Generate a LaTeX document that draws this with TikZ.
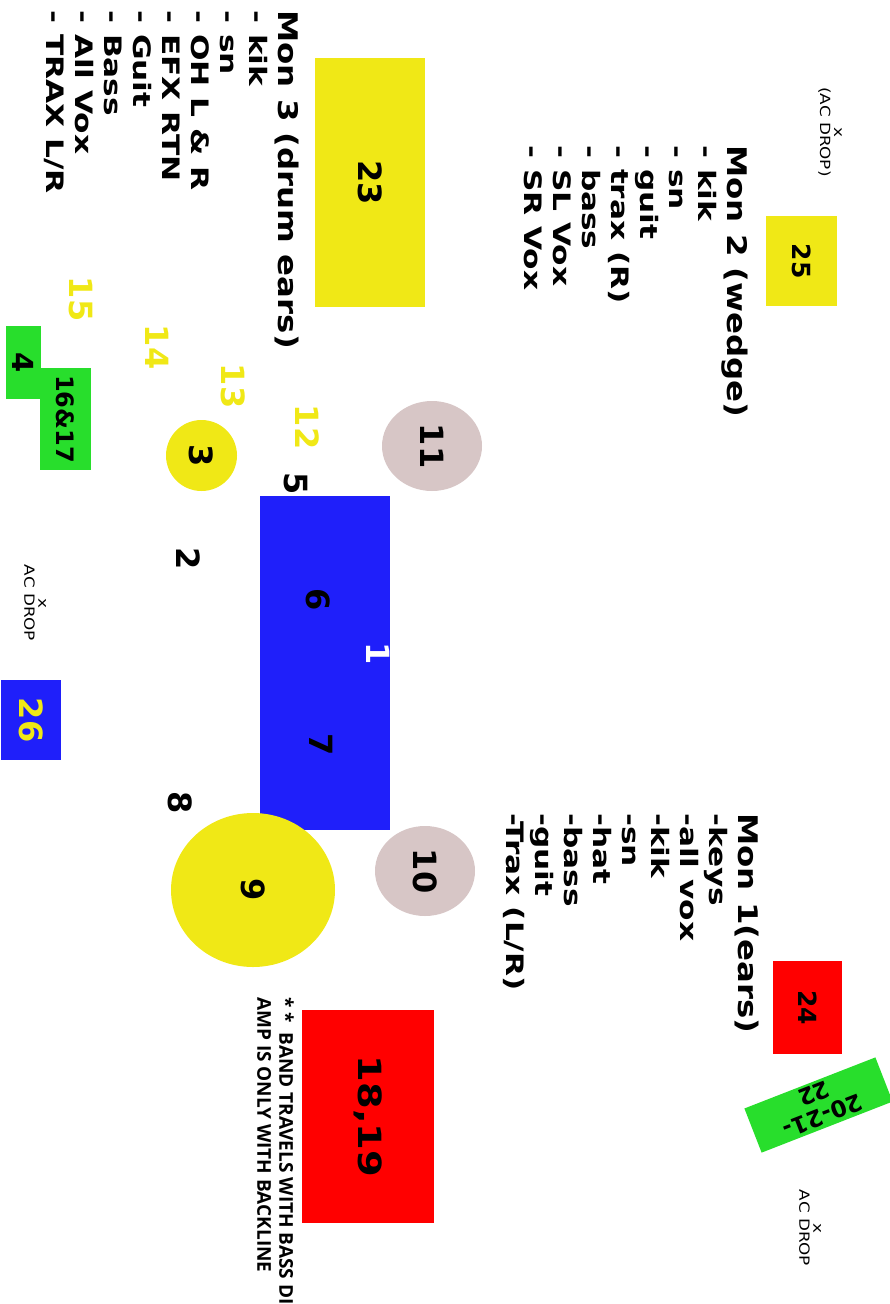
\documentclass[tikz,border=0pt]{standalone}
\usepackage{fontspec}
\setmainfont{DejaVu Sans}
\newfontfamily\monfont{DejaVu Sans}[FakeStretch=1.2]
\newfontfamily\itemfont{DejaVu Sans}[FakeStretch=1.3]
\newfontfamily\notefont{Open Sans}
\usetikzlibrary{shapes.geometric}
\definecolor{plotyellow}{HTML}{F0E816}
\definecolor{plotblue}{HTML}{1F1FFA}
\definecolor{plotgreen}{HTML}{28DE2C}
\definecolor{plotred}{HTML}{FF0000}
\definecolor{plotgrey}{HTML}{D7C6C6}
\newcommand{\pxsize}[1]{\fontsize{#1}{#1}\selectfont}
\newcommand{\monhead}[1]{{\monfont\bfseries\pxsize{27}#1}}

\begin{document}
\begin{tikzpicture}[x=1pt, y=-1pt,
	num/.style={rotate=-90, inner sep=0pt, font=\bfseries\pxsize{32}},
	pad/.style={rectangle, rotate=-90, inner sep=0pt, fill=#1, font=\bfseries\pxsize{32}},
	wedge/.style={ellipse, rotate=-90, inner sep=0pt, fill=#1, font=\bfseries\pxsize{32}},
	monlist/.style={rotate=-90, anchor=north west, inner sep=0pt, align=left, font=\itemfont\bfseries\fontsize{24}{29}\selectfont},
	acdrop/.style={rotate=-90, inner sep=0pt, align=center, font=\monfont\fontsize{14}{14}\selectfont}]
	\useasboundingbox (0,0) rectangle (890,1304);
	% risers and amps
	\node [pad=plotyellow, minimum width=249, minimum height=110] (r23) at (370,182.5) {23};
	\node [pad=plotyellow, minimum width=90, minimum height=71, font=\bfseries\pxsize{25}] (r25) at (801.5,261) {25};
	\node [pad=plotgreen, minimum width=73, minimum height=35, font=\bfseries\pxsize{29}] (r4) at (23.5,362.5) {4};
	\node [pad=plotgreen, minimum width=102, minimum height=51, font=\bfseries\pxsize{24}] (r16) at (65.5,419) {16\&17};
	\node [pad=plotblue, minimum width=334, minimum height=130] (drums) at (325,663) {};
	\node [pad=plotblue, minimum width=80, minimum height=60, text=plotyellow] (r26) at (31,720) {26};
	\node [pad=plotred, minimum width=93, minimum height=69, font=\bfseries\pxsize{25}] (r24) at (807.5,1007.5) {24};
	\node [pad=plotred, minimum width=213, minimum height=132, font=\monfont\bfseries\pxsize{32}] (r18) at (368,1116.5) {18,19};
	\node [rectangle, rotate=201.3, fill=plotgreen, inner sep=0pt, minimum width=140.6, minimum height=47.4, align=center, font=\bfseries\fontsize{23}{24}\selectfont] (r20) at (818.5,1105) {20-21-\\22};
	% wedges and vocal spots
	\node [wedge=plotgrey, minimum width=90, minimum height=100] (w11) at (432,446) {11};
	\node [wedge=plotgrey, minimum width=90, minimum height=100] (w10) at (425,871) {10};
	\node [wedge=plotyellow, minimum width=154, minimum height=164] (w9) at (253,890) {9};
	\node [wedge=plotyellow, minimum width=71, minimum height=71] (w3) at (201.5,455.5) {3};
	% numbers
	\node [num, text=plotyellow] (n12) at (307,427) {12};
	\node [num, text=plotyellow] (n13) at (233,386) {13};
	\node [num, text=plotyellow] (n14) at (157,347) {14};
	\node [num, text=plotyellow] (n15) at (81,299) {15};
	\node [num] (n5) at (296,484) {5};
	\node [num] (n2) at (188.5,558.5) {2};
	\node [num] (n8) at (180.5,802.5) {8};
	\node [num] (n6) at (318.5,599.5) {6};
	\node [num] (n7) at (321.5,745) {7};
	\node [num, text=white] (n1) at (378.5,654) {1};
	% power drops
	\node [acdrop] (ac1) at (830,132) {x\\(AC DROP)};
	\node [acdrop] (ac2) at (35,603) {x\\AC DROP};
	\node [acdrop] (ac3) at (810,1228) {x\\AC DROP};
	% monitor mixes
	\node [monlist] (mon3) at (299,10) {\monhead{Mon 3 (drum ears)}\\- kik\\- sn\\- OH L \& R\\- EFX RTN\\- Guit\\- Bass\\- All Vox\\- TRAX L/R};
	\node [monlist] (mon2) at (748,145) {\monhead{Mon 2 (wedge)}\\- kik\\- sn\\- guit\\- trax (R)\\- bass\\- SL Vox\\- SR Vox};
	\node [monlist] (mon1) at (759,813) {\monhead{Mon 1(ears)}\\-keys\\-all vox\\-kik\\-sn\\-hat\\-bass\\-guit\\-Trax (L/R)};
	\node [rotate=-90, anchor=north west, inner sep=0pt, align=left, font=\notefont\bfseries\fontsize{19}{22}\selectfont] (note) at (294,997) {* *\ \ BAND TRAVELS WITH BASS DI.\\AMP IS ONLY WITH BACKLINE};
\end{tikzpicture}
\end{document}
